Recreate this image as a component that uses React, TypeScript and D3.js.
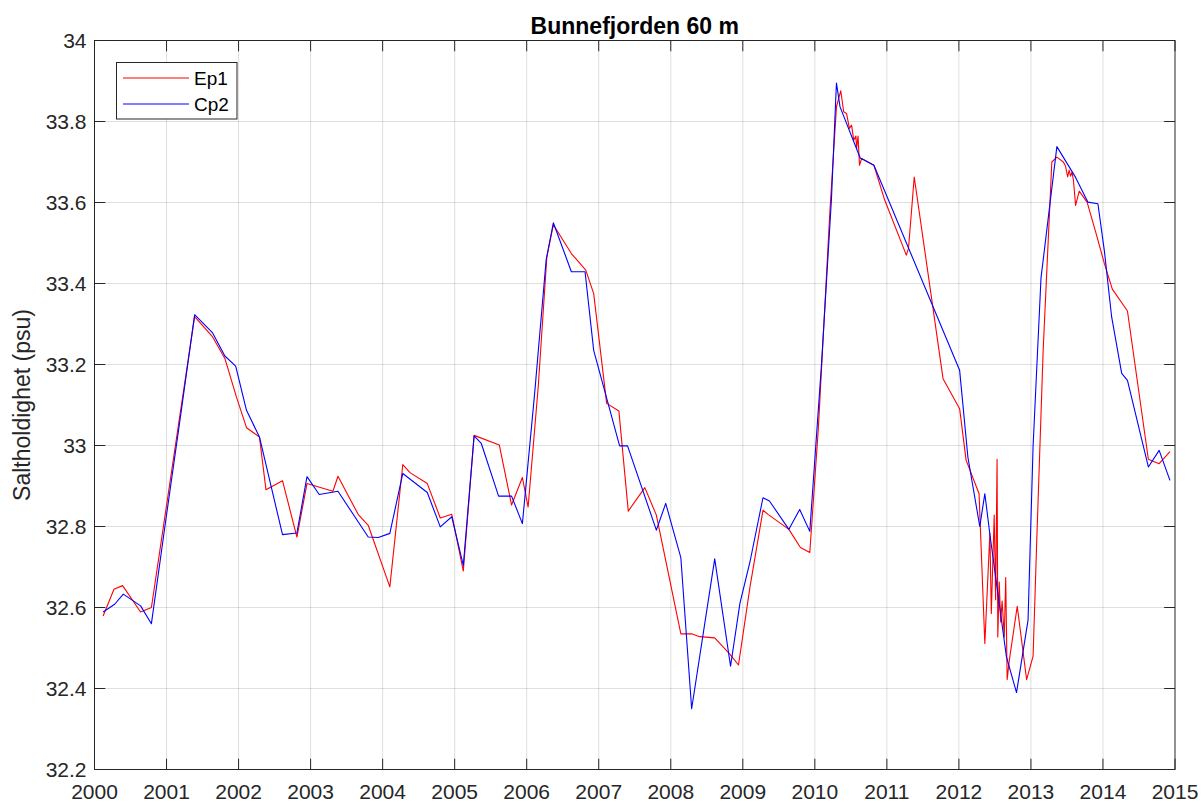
import { useEffect, useRef } from "react";
import * as d3 from "d3";

// decimal year, salinity (psu)
const ep1: [number, number][] = [
  [2000.12, 32.579], [2000.27, 32.645], [2000.39, 32.654], [2000.64, 32.589], [2000.79, 32.6],
  [2000.99, 32.84], [2001.19, 33.08], [2001.39, 33.318], [2001.64, 33.268], [2001.81, 33.215],
  [2001.97, 33.12], [2002.11, 33.044], [2002.29, 33.021], [2002.38, 32.891], [2002.61, 32.913],
  [2002.81, 32.774], [2002.95, 32.906], [2003.31, 32.887], [2003.38, 32.924], [2003.66, 32.83],
  [2003.8, 32.803], [2004.1, 32.651], [2004.28, 32.953], [2004.38, 32.933], [2004.62, 32.906],
  [2004.8, 32.821], [2004.96, 32.83], [2005.12, 32.69], [2005.27, 33.025], [2005.62, 33.001],
  [2005.79, 32.853], [2005.94, 32.921], [2006.02, 32.848], [2006.16, 33.145], [2006.28, 33.466],
  [2006.37, 33.545], [2006.62, 33.474], [2006.82, 33.433], [2006.93, 33.375], [2007.11, 33.104],
  [2007.28, 33.085], [2007.41, 32.838], [2007.64, 32.896], [2007.8, 32.828], [2008.14, 32.535],
  [2008.29, 32.535], [2008.4, 32.528], [2008.61, 32.525], [2008.82, 32.485], [2008.94, 32.458],
  [2009.1, 32.651], [2009.28, 32.84], [2009.35, 32.83], [2009.64, 32.793], [2009.8, 32.748],
  [2009.93, 32.736], [2010.05, 33.046], [2010.21, 33.581], [2010.3, 33.836], [2010.36, 33.876],
  [2010.4, 33.824], [2010.44, 33.82], [2010.48, 33.783], [2010.51, 33.791], [2010.54, 33.754],
  [2010.57, 33.764], [2010.58, 33.733], [2010.6, 33.764], [2010.62, 33.692], [2010.65, 33.709],
  [2010.82, 33.692], [2010.97, 33.606], [2011.27, 33.47], [2011.3, 33.486], [2011.38, 33.663],
  [2011.78, 33.165], [2012.01, 33.091], [2012.1, 32.964], [2012.28, 32.881], [2012.36, 32.511],
  [2012.43, 32.783], [2012.45, 32.585], [2012.49, 32.828], [2012.51, 32.619], [2012.53, 32.966],
  [2012.54, 32.527], [2012.56, 32.663], [2012.58, 32.564], [2012.6, 32.616], [2012.63, 32.527],
  [2012.65, 32.674], [2012.67, 32.422], [2012.7, 32.47], [2012.81, 32.603], [2012.94, 32.422],
  [2013.03, 32.48], [2013.08, 32.761], [2013.17, 33.236], [2013.29, 33.7], [2013.36, 33.712],
  [2013.45, 33.7], [2013.48, 33.69], [2013.51, 33.663], [2013.53, 33.68], [2013.55, 33.665],
  [2013.57, 33.675], [2013.59, 33.655], [2013.62, 33.593], [2013.67, 33.628], [2013.78, 33.601],
  [2013.91, 33.52], [2014.02, 33.449], [2014.13, 33.386], [2014.34, 33.332], [2014.63, 32.966],
  [2014.78, 32.955], [2014.93, 32.985],
];

const cp2: [number, number][] = [
  [2000.12, 32.589], [2000.28, 32.608], [2000.4, 32.633], [2000.64, 32.604], [2000.79, 32.56],
  [2000.99, 32.816], [2001.19, 33.067], [2001.39, 33.323], [2001.64, 33.278], [2001.81, 33.221],
  [2001.96, 33.196], [2002.11, 33.087], [2002.29, 33.021], [2002.61, 32.78], [2002.81, 32.784],
  [2002.95, 32.923], [2003.12, 32.879], [2003.38, 32.887], [2003.8, 32.774], [2003.94, 32.773],
  [2004.1, 32.783], [2004.28, 32.931], [2004.62, 32.884], [2004.8, 32.799], [2004.96, 32.824],
  [2005.12, 32.704], [2005.27, 33.024], [2005.37, 33.005], [2005.61, 32.875], [2005.79, 32.875],
  [2005.94, 32.807], [2006.11, 33.128], [2006.27, 33.458], [2006.37, 33.55], [2006.62, 33.429],
  [2006.81, 33.429], [2006.93, 33.235], [2007.29, 32.999], [2007.4, 32.999], [2007.8, 32.791],
  [2007.93, 32.857], [2008.14, 32.723], [2008.29, 32.35], [2008.61, 32.72], [2008.83, 32.455],
  [2008.96, 32.61], [2009.1, 32.713], [2009.28, 32.871], [2009.37, 32.863], [2009.64, 32.793],
  [2009.79, 32.842], [2009.93, 32.788], [2010.09, 33.194], [2010.23, 33.606], [2010.3, 33.895],
  [2010.35, 33.836], [2010.63, 33.71], [2010.82, 33.692], [2012.01, 33.186], [2012.125, 32.971],
  [2012.29, 32.8], [2012.36, 32.881], [2012.43, 32.781], [2012.66, 32.478], [2012.8, 32.39],
  [2012.96, 32.569], [2013.03, 32.999], [2013.14, 33.414], [2013.36, 33.738], [2013.62, 33.662],
  [2013.79, 33.601], [2013.93, 33.597], [2014.02, 33.48], [2014.12, 33.318], [2014.26, 33.178],
  [2014.34, 33.161], [2014.63, 32.947], [2014.78, 32.988], [2014.93, 32.914],
];

const yearTicks = d3.range(2000, 2016);
const saltTicks = [32.2, 32.4, 32.6, 32.8, 33, 33.2, 33.4, 33.6, 33.8, 34];
const seriesNames = ["Ep1", "Cp2"];
const seriesColors = ["#ff0000", "#0000ff"];

const W = 1202,
  H = 803;
const left = 94.5,
  right = 1175,
  top = 40.5,
  bottom = 769.5;
const axisColor = "#262626";
const font = "'Liberation Sans', Arial, Helvetica, sans-serif";
const tickLen = 10.8;

export default function App() {
  const ref = useRef<SVGSVGElement>(null);

  useEffect(() => {
    document.body.style.margin = "0";
    const svg = d3.select(ref.current);
    svg.selectAll("*").remove();

    const x = d3.scaleLinear().domain([2000, 2015]).range([left, right]);
    const y = d3.scaleLinear().domain([32.2, 34]).range([bottom, top]);

    svg.append("rect").attr("width", W).attr("height", H).attr("fill", "#fff");

    // grid
    const grid = svg.append("g").attr("stroke", axisColor).attr("stroke-opacity", 0.15);
    grid
      .selectAll(".gx")
      .data(yearTicks.slice(1, -1))
      .enter()
      .append("line")
      .attr("x1", (d) => x(d))
      .attr("x2", (d) => x(d))
      .attr("y1", top)
      .attr("y2", bottom);
    grid
      .selectAll(".gy")
      .data(saltTicks.slice(1, -1))
      .enter()
      .append("line")
      .attr("x1", left)
      .attr("x2", right)
      .attr("y1", (d) => y(d))
      .attr("y2", (d) => y(d));

    // data lines
    const line = d3
      .line<[number, number]>()
      .x((d) => x(d[0]))
      .y((d) => y(d[1]));
    [ep1, cp2].forEach((s, i) => {
      svg
        .append("path")
        .datum(s)
        .attr("d", line)
        .attr("fill", "none")
        .attr("stroke", seriesColors[i])
        .attr("stroke-width", 1.1)
        .attr("stroke-linejoin", "round");
    });

    // box + inward ticks
    const ax = svg.append("g").attr("stroke", axisColor).attr("stroke-width", 1);
    ax.append("rect")
      .attr("x", left)
      .attr("y", top)
      .attr("width", right - left)
      .attr("height", bottom - top)
      .attr("fill", "none");
    yearTicks.forEach((t) => {
      ax.append("line").attr("x1", x(t)).attr("x2", x(t)).attr("y1", bottom).attr("y2", bottom - tickLen);
      ax.append("line").attr("x1", x(t)).attr("x2", x(t)).attr("y1", top).attr("y2", top + tickLen);
    });
    saltTicks.forEach((t) => {
      ax.append("line").attr("x1", left).attr("x2", left + tickLen).attr("y1", y(t)).attr("y2", y(t));
      ax.append("line").attr("x1", right).attr("x2", right - tickLen).attr("y1", y(t)).attr("y2", y(t));
    });

    const labels = svg.append("g").attr("font-family", font).attr("fill", axisColor);
    labels
      .selectAll(".xl")
      .data(yearTicks)
      .enter()
      .append("text")
      .attr("x", (d) => x(d))
      .attr("y", bottom + 29)
      .attr("text-anchor", "middle")
      .attr("font-size", 21)
      .text((d) => d);
    labels
      .selectAll(".yl")
      .data(saltTicks)
      .enter()
      .append("text")
      .attr("x", left - 8)
      .attr("y", (d) => y(d) + 7.5)
      .attr("text-anchor", "end")
      .attr("font-size", 21)
      .text((d) => d3.format("~g")(d));

    labels
      .append("text")
      .attr("transform", `translate(30,${(top + bottom) / 2}) rotate(-90)`)
      .attr("text-anchor", "middle")
      .attr("font-size", 23)
      .text("Saltholdighet (psu)");

    svg
      .append("text")
      .attr("x", (left + right) / 2)
      .attr("y", 34)
      .attr("text-anchor", "middle")
      .attr("font-family", font)
      .attr("font-weight", "bold")
      .attr("font-size", 23)
      .attr("fill", "#000")
      .text("Bunnefjorden 60 m");

    // legend
    const lg = svg.append("g");
    lg.append("rect")
      .attr("x", 116.5)
      .attr("y", 62.5)
      .attr("width", 120.5)
      .attr("height", 56.5)
      .attr("fill", "#fff")
      .attr("stroke", axisColor)
      .attr("stroke-width", 1);
    seriesNames.forEach((n, i) => {
      const ly = 78 + i * 26;
      lg.append("line")
        .attr("x1", 123)
        .attr("x2", 189)
        .attr("y1", ly)
        .attr("y2", ly)
        .attr("stroke", seriesColors[i])
        .attr("stroke-width", 1.1);
      lg.append("text")
        .attr("x", 194)
        .attr("y", ly + 7)
        .attr("font-family", font)
        .attr("font-size", 19)
        .attr("fill", "#000")
        .text(n);
    });
  }, []);

  return <svg ref={ref} width={W} height={H} style={{ display: "block" }} />;
}
